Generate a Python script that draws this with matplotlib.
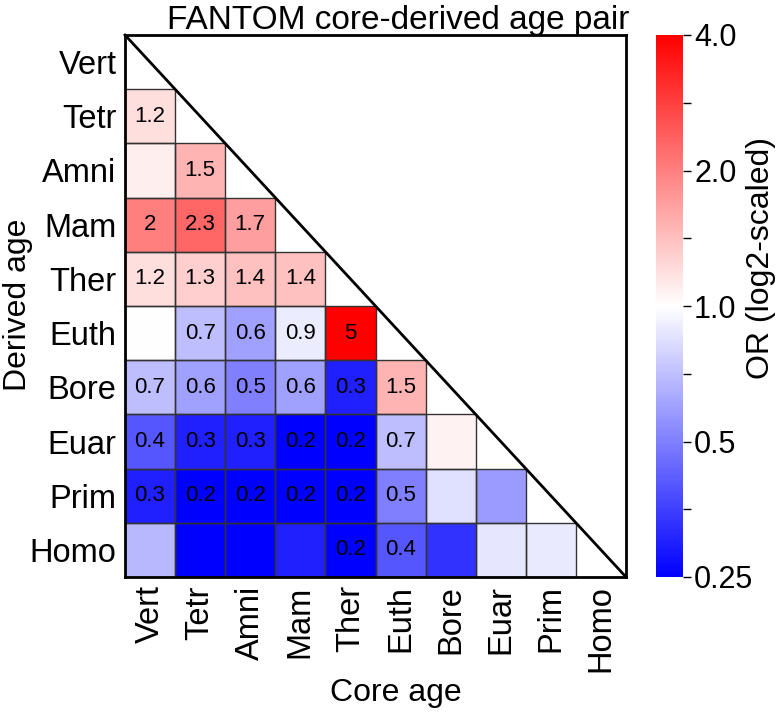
import numpy as np
import matplotlib
matplotlib.use('Agg')
import matplotlib.pyplot as plt
from matplotlib.colors import LogNorm
from matplotlib.patches import Rectangle
from matplotlib.ticker import FixedLocator, FixedFormatter, NullFormatter

plt.rcParams['font.family'] = ['Liberation Sans', 'DejaVu Sans']

ages = ["Vert", "Tetr", "Amni", "Mam", "Ther", "Euth", "Bore", "Euar", "Prim", "Homo"]

# odds ratios per derived-age row (columns: core ages, oldest first)
or_vert = []
or_tetr = [1.2]
or_amni = [1.1, 1.5]
or_mam = [2.0, 2.3, 1.7]
or_ther = [1.2, 1.3, 1.4, 1.4]
or_euth = [1.0, 0.7, 0.6, 0.9, 5.0]
or_bore = [0.7, 0.6, 0.5, 0.6, 0.3, 1.5]
or_euar = [0.4, 0.3, 0.3, 0.2, 0.2, 0.7, 1.07]
or_prim = [0.3, 0.2, 0.2, 0.2, 0.2, 0.5, 0.85, 0.58]
or_homo = [0.68, 0.2, 0.2, 0.3, 0.2, 0.4, 0.33, 0.87, 0.89]

# 1 = value annotated in the cell
sig_vert = []
sig_tetr = [1]
sig_amni = [0, 1]
sig_mam = [1, 1, 1]
sig_ther = [1, 1, 1, 1]
sig_euth = [0, 1, 1, 1, 1]
sig_bore = [1, 1, 1, 1, 1, 1]
sig_euar = [1, 1, 1, 1, 1, 1, 0]
sig_prim = [1, 1, 1, 1, 1, 1, 0, 0]
sig_homo = [0, 0, 0, 0, 1, 1, 0, 0, 0]

cbar_ticks = [0.25, 0.5, 1.0, 2.0, 4.0]
cbar_ticklabels = ["0.25", "0.5", "1.0", "2.0", "4.0"]

rows = [or_vert, or_tetr, or_amni, or_mam, or_ther, or_euth, or_bore, or_euar, or_prim, or_homo]
sigs = [sig_vert, sig_tetr, sig_amni, sig_mam, sig_ther, sig_euth, sig_bore, sig_euar, sig_prim, sig_homo]

n = len(ages)
mat = np.full((n, n), np.nan)
for i, r in enumerate(rows):
    for j, v in enumerate(r):
        mat[i, j] = v
data = np.ma.masked_invalid(mat)

W, H = 781, 717
fig = plt.figure(figsize=(W / 100, H / 100), dpi=100)
ax = fig.add_axes([125 / W, 1 - 577 / H, 501 / W, 542 / H])
norm = LogNorm(vmin=0.25, vmax=4.0)
mesh = ax.pcolormesh(np.arange(n + 1), np.arange(n + 1), data, cmap='bwr', norm=norm,
                     edgecolors='none')
ax.set_xlim(0, n)
ax.set_ylim(n, 0)

for i, (r, s) in enumerate(zip(rows, sigs)):
    for j, (v, flag) in enumerate(zip(r, s)):
        ax.add_patch(Rectangle((j, i), 1, 1, fill=False, edgecolor='#333333', lw=1.0))
        if flag:
            ax.text(j + 0.5, i + 0.5, f"{round(v, 1):g}", ha='center', va='center',
                    fontsize=16, color='black')

ax.plot([0, n], [0, n], color='black', lw=2, clip_on=False)

ax.set_xticks(np.arange(n) + 0.5)
ax.set_yticks(np.arange(n) + 0.5)
ax.set_xticklabels(ages, rotation=90, fontsize=23.5)
ax.set_yticklabels(ages, fontsize=23.5)
ax.tick_params(length=0, pad=6)
for sp in ax.spines.values():
    sp.set_linewidth(2)
    sp.set_color('black')

fig.text(396 / W, 1 - 693 / H, "Core age", ha='center', va='center', fontsize=23)
fig.text(18 / W, 1 - 305 / H, "Derived age", ha='center', va='center', rotation=90, fontsize=23)
fig.text(0.51, 1 - 5 / H, "FANTOM core-derived age pair", ha='center', va='top', fontsize=24)

cax = fig.add_axes([656 / W, 1 - 577 / H, 27 / W, 542 / H])
cb = fig.colorbar(mesh, cax=cax)
cb.outline.set_visible(False)
cax.yaxis.set_major_locator(FixedLocator(cbar_ticks))
cax.yaxis.set_major_formatter(FixedFormatter(cbar_ticklabels))
cax.yaxis.set_minor_locator(FixedLocator([2 ** -1.5, 2 ** -0.5, 2 ** 0.5, 2 ** 1.5]))
cax.yaxis.set_minor_formatter(NullFormatter())
cax.tick_params(which='major', length=6, width=1, labelsize=22, pad=2)
cax.tick_params(which='minor', length=6, width=1)
fig.text(761 / W, 1 - 258 / H, "OR (log2-scaled)", ha='center', va='center', rotation=90, fontsize=23)

fig.savefig("out.png", dpi=100)
